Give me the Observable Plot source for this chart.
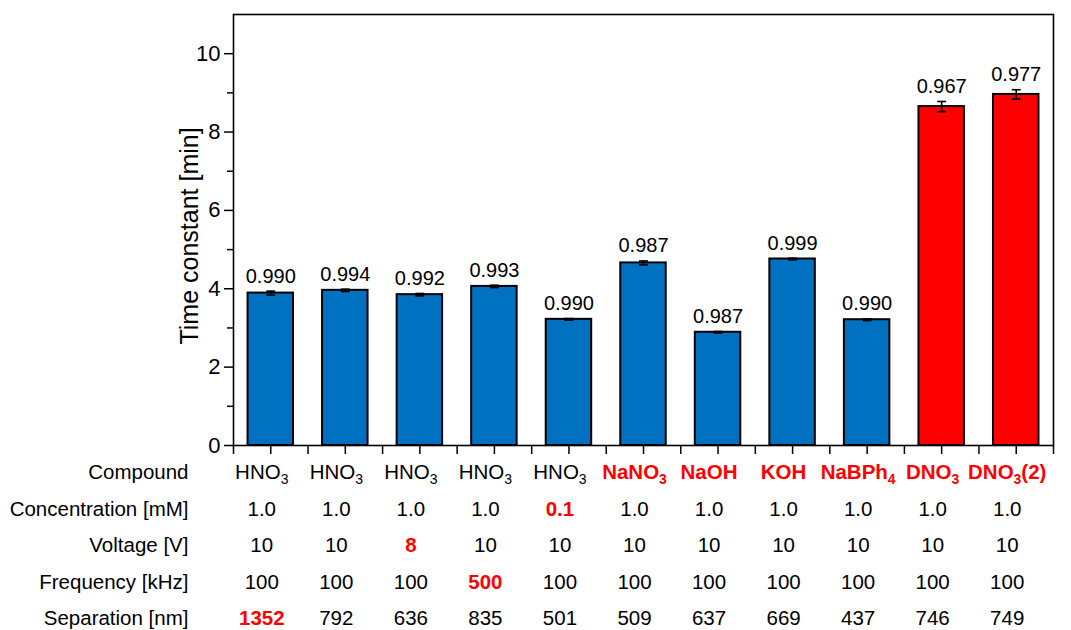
<!DOCTYPE html>
<html>
<head>
<meta charset="utf-8">
<script src="https://cdn.jsdelivr.net/npm/d3@7"></script>
<script src="https://cdn.jsdelivr.net/npm/@observablehq/plot@0.6"></script>
<style>
  html, body { margin: 0; padding: 0; background: #fff; }
</style>
</head>
<body>
<div id="chart"></div>
<script>
// ---- data ----
const compounds = ["HNO3", "HNO3", "HNO3", "HNO3", "HNO3", "NaNO3", "NaOH", "KOH", "NaBPh4", "DNO3", "DNO3(2)"];
const isotope = ["H", "H", "H", "H", "H", "H", "H", "H", "H", "D", "D"];
const timeConstant = [3.89, 3.96, 3.85, 4.06, 3.22, 4.66, 2.89, 4.76, 3.21, 8.65, 8.96];
const timeError = [0.05, 0.03, 0.03, 0.03, 0.02, 0.05, 0.02, 0.02, 0.02, 0.13, 0.12];
const r2Labels = ["0.990", "0.994", "0.992", "0.993", "0.990", "0.987", "0.987", "0.999", "0.990", "0.967", "0.977"];
const concentration = ["1.0", "1.0", "1.0", "1.0", "0.1", "1.0", "1.0", "1.0", "1.0", "1.0", "1.0"];
const voltage = ["10", "10", "8", "10", "10", "10", "10", "10", "10", "10", "10"];
const frequency = ["100", "100", "100", "500", "100", "100", "100", "100", "100", "100", "100"];
const separation = ["1352", "792", "636", "835", "501", "509", "637", "669", "437", "746", "749"];
// which cells are highlighted (changed parameter)
const compoundHi = [false, false, false, false, false, true, true, true, true, true, true];
const concentrationHi = [false, false, false, false, true, false, false, false, false, false, false];
const voltageHi = [false, false, true, false, false, false, false, false, false, false, false];
const frequencyHi = [false, false, false, true, false, false, false, false, false, false, false];
const separationHi = [true, false, false, false, false, false, false, false, false, false, false];
const rowLabels = ["Compound", "Concentration [mM]", "Voltage [V]", "Frequency [kHz]", "Separation [nm]"];
const yLabel = "Time constant [min]";
const yTicks = [0, 2, 4, 6, 8, 10];
const yMinorTicks = [1, 3, 5, 7, 9];

// ---- build ----
const bars = compounds.map((c, i) => ({
  i, compound: c, iso: isotope[i], v: timeConstant[i], e: timeError[i], r2: r2Labels[i]
}));
const rows = [
  {label: rowLabels[0], values: compounds, hi: compoundHi, dy: 27},
  {label: rowLabels[1], values: concentration, hi: concentrationHi, dy: 64},
  {label: rowLabels[2], values: voltage, hi: voltageHi, dy: 100},
  {label: rowLabels[3], values: frequency, hi: frequencyHi, dy: 137},
  {label: rowLabels[4], values: separation, hi: separationHi, dy: 173}
];
const idx = compounds.map((_, i) => i);
const RED = "#FF0000";

const tableMarks = [];
for (const r of rows) {
  tableMarks.push(Plot.text([r.label], {
    text: d => d, frameAnchor: "bottom-left", dx: -45, dy: r.dy,
    textAnchor: "end", lineAnchor: "middle", fontSize: 20.5, fill: "black"
  }));
  tableMarks.push(Plot.text(idx.filter(i => !r.hi[i]), {
    x: i => i, text: i => r.values[i], frameAnchor: "bottom", dx: -9, dy: r.dy,
    lineAnchor: "middle", fontSize: 20.5, fill: "black"
  }));
  tableMarks.push(Plot.text(idx.filter(i => r.hi[i]), {
    x: i => i, text: i => r.values[i], frameAnchor: "bottom", dx: -9, dy: r.dy,
    lineAnchor: "middle", fontSize: 20.5, fill: RED, fontWeight: "bold"
  }));
}

const chart = Plot.plot({
  width: 1071,
  height: 630,
  marginLeft: 233,
  marginRight: 18,
  marginTop: 14,
  marginBottom: 185,
  style: {fontFamily: "'Liberation Sans', Arial, Helvetica, sans-serif", fontSize: "20px", color: "black", background: "white"},
  x: {domain: [-0.5, 10.5]},
  y: {domain: [0, 11]},
  color: {domain: ["H", "D"], range: ["#0070C0", RED]},
  marks: [
    Plot.rectY(bars, {
      x1: d => d.i - 0.305, x2: d => d.i + 0.305, y1: 0, y2: "v",
      fill: "iso", stroke: "black", strokeWidth: 2
    }),
    Plot.ruleX(bars, {x: "i", y1: d => d.v - d.e, y2: d => d.v + d.e, stroke: "black", strokeWidth: 1.6}),
    Plot.link(bars, {x1: d => d.i - 0.06, x2: d => d.i + 0.06, y1: d => d.v + d.e, y2: d => d.v + d.e, stroke: "black", strokeWidth: 1.6}),
    Plot.link(bars, {x1: d => d.i - 0.06, x2: d => d.i + 0.06, y1: d => d.v - d.e, y2: d => d.v - d.e, stroke: "black", strokeWidth: 1.6}),
    Plot.text(bars, {x: "i", y: d => d.v + d.e, text: "r2", dy: -15, lineAnchor: "middle", fontSize: 20, fill: "black"}),
    Plot.axisY({ticks: yTicks, tickSize: 9, tickPadding: 4, fontSize: 22, strokeWidth: 1.5, label: null}),
    Plot.axisY({ticks: yMinorTicks, tickSize: 6, strokeWidth: 1.5, tickFormat: () => "", label: null}),
    Plot.text([yLabel], {text: d => d, frameAnchor: "left", rotate: -90, dx: -44, dy: 6, lineAnchor: "middle", textAnchor: "middle", fontSize: 25, fill: "black"}),
    Plot.axisX({ticks: idx, tickSize: 9, strokeWidth: 1.5, tickFormat: () => "", label: null}),
    Plot.axisX({ticks: idx.map(i => i - 0.5).concat([10.5]), tickSize: 9, strokeWidth: 1.5, tickFormat: () => "", label: null}),
    Plot.frame({stroke: "black", strokeWidth: 1.6}),
    ...tableMarks
  ]
});
document.getElementById("chart").appendChild(chart);

// chemical subscripts: digits directly following a letter
const compoundSet = new Set(compounds);
d3.select(chart).selectAll("text").each(function() {
  const s = this.textContent;
  if (!compoundSet.has(s) || this.querySelector("tspan")) return;
  const parts = s.split(/(?<=[A-Za-z])(\d+)/);
  this.textContent = "";
  let prevSub = false;
  parts.forEach((p, k) => {
    if (p === "") return;
    const isSub = k % 2 === 1;
    const t = d3.select(this).append("tspan").text(p);
    if (isSub) { t.attr("font-size", 14).attr("dy", 5); prevSub = true; }
    else if (prevSub) { t.attr("dy", -5); prevSub = false; }
  });
});
</script>
</body>
</html>
